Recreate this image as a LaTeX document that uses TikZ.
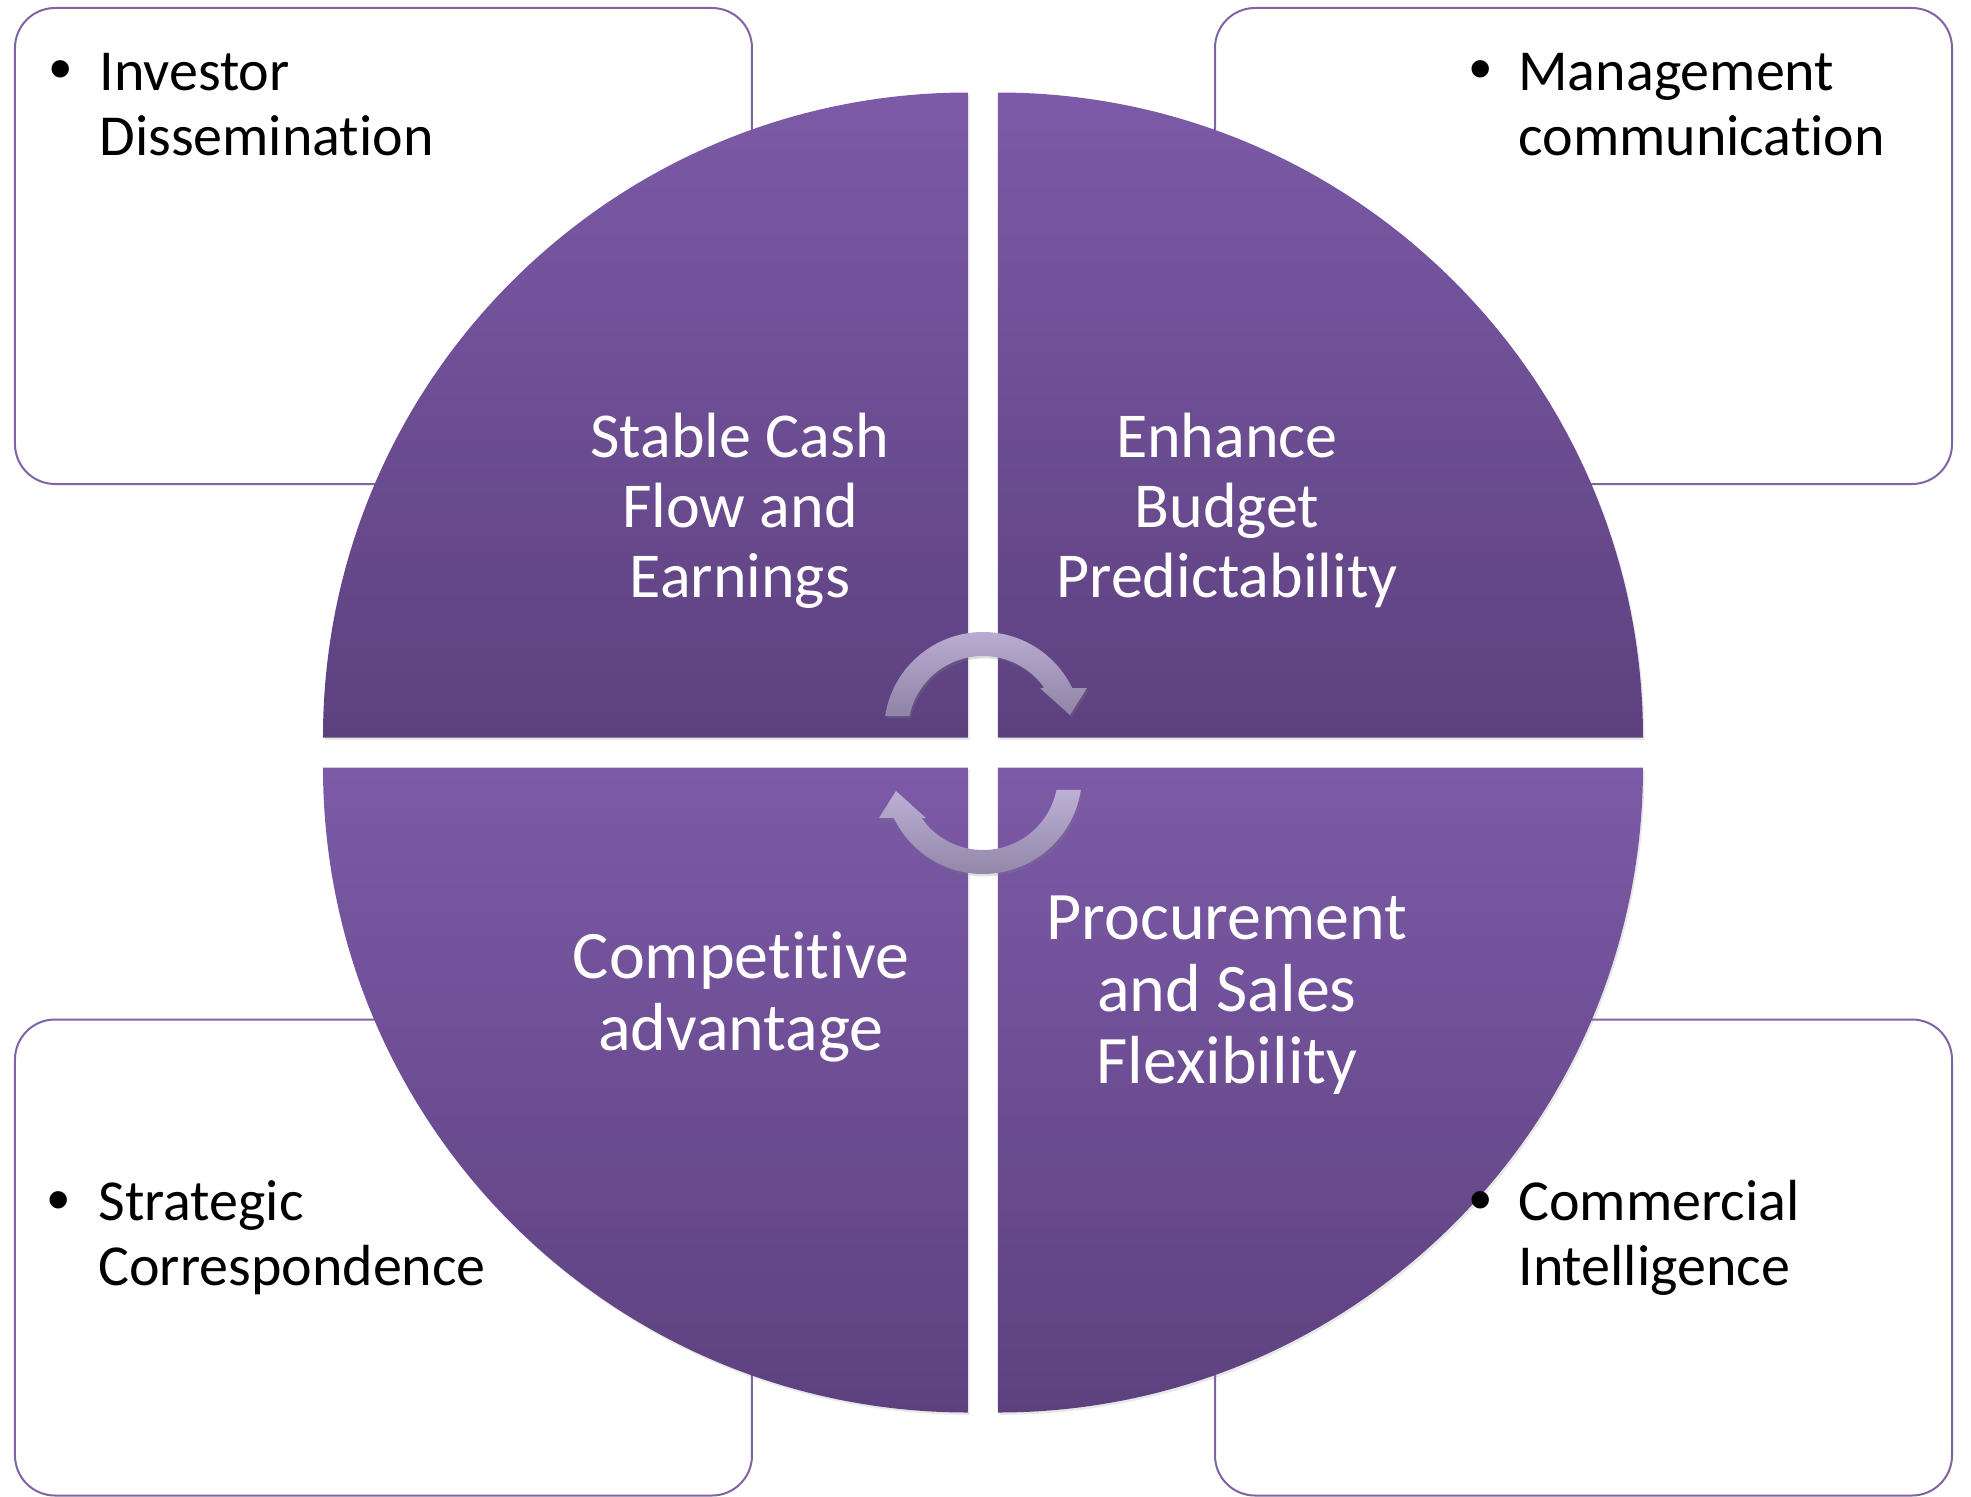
\documentclass[tikz,border=0pt]{standalone}
\usepackage{fontspec}
\setmainfont{Carlito}[Ligatures=NoCommon]
\newfontfamily\bulletfont{Liberation Sans}
\usetikzlibrary{shadows}

\definecolor{quarterTop}{HTML}{7C5AA7}
\definecolor{quarterBot}{HTML}{5D417F}
\definecolor{boxLine}{HTML}{8064A2}
\definecolor{arrowTop}{HTML}{BCB0D4}
\definecolor{arrowBot}{HTML}{8E84A5}

\begin{document}
\begin{tikzpicture}[x=0.5pt, y=0.5pt,
    info box/.style={draw=boxLine, line width=1pt, rounded corners=20pt, minimum width=368.5pt, minimum height=238pt, inner sep=0pt},
    quarter/.style={top color=quarterTop, bottom color=quarterBot, drop shadow={opacity=0.18, shadow xshift=0.8pt, shadow yshift=-1.2pt}},
    cycle arrow/.style={top color=arrowTop, bottom color=arrowBot, drop shadow={opacity=0.25, shadow xshift=0.8pt, shadow yshift=-1.2pt}},
    quarter text/.style={text=white, align=center, anchor=base, inner sep=0pt},
    item text/.style={align=left, anchor=base west, inner sep=0pt, font=\fontsize{29pt}{32.5pt}\selectfont},
    item dot/.style={anchor=base west, inner sep=0pt, font=\bulletfont\fontsize{32pt}{32.5pt}\selectfont}]
    \useasboundingbox (-983,-743.5) rectangle (988,752.5);

    % boxes behind the circle
    \node[info box] (investor) at (-599.5, 506.5) {};
    \node[info box] (management) at (600.5, 506.5) {};
    \node[info box] (strategic) at (-599.5, -505) {};
    \node[info box] (commercial) at (600.5, -505) {};

    % four quarters
    \path[quarter] (-15,15) -- (-660,15) arc[start angle=180, end angle=90, radius=645] -- cycle;
    \path[quarter] (15,15) -- (15,660) arc[start angle=90, end angle=0, radius=645] -- cycle;
    \path[quarter] (-15,-15) -- (-660,-15) arc[start angle=180, end angle=270, radius=645] -- cycle;
    \path[quarter] (15,-15) -- (660,-15) arc[start angle=0, end angle=-90, radius=645] -- cycle;

    % circular arrows
    \path[cycle arrow, shift={(0,21.5)}] (171.3:99) arc[start angle=171.3, end angle=25.7, radius=99]
        -- (104,43) -- (87,16) -- (57,43) -- (35:75) arc[start angle=35, end angle=168.5, radius=75] -- cycle;
    \path[cycle arrow, shift={(0,-22.5)}] (351.3:99) arc[start angle=351.3, end angle=205.7, radius=99]
        -- (-104,-43) -- (-87,-16) -- (-57,-43) -- (215:75) arc[start angle=215, end angle=348.5, radius=75] -- cycle;

    % base anchor sits on the last line
    \node[quarter text, font=\fontsize{32pt}{35pt}\selectfont] (cash) at (-243, 155.5) {Stable Cash\\Flow and\\Earnings};
    \node[quarter text, font=\fontsize{32pt}{35pt}\selectfont] (budget) at (244, 155.5) {Enhance\\Budget\\Predictability};
    \node[quarter text, font=\fontsize{34pt}{36pt}\selectfont] (advantage) at (-242, -297.5) {Competitive\\advantage};
    \node[quarter text, font=\fontsize{34pt}{36pt}\selectfont] (flexibility) at (244, -330.5) {Procurement\\and Sales\\Flexibility};

    \node[item dot] (investor dot) at (-934, 662.5) {•};
    \node[item text] (investor text) at (-884, 597.5) {Investor\\Dissemination};
    \node[item dot] (management dot) at (486, 662.5) {•};
    \node[item text] (management text) at (535, 597.5) {Management\\communication};
    \node[item dot] (strategic dot) at (-936, -468.5) {•};
    \node[item text] (strategic text) at (-885, -532.5) {Strategic\\Correspondence};
    \node[item dot] (commercial dot) at (486, -468.5) {•};
    \node[item text] (commercial text) at (535, -532.5) {Commercial\\Intelligence};
\end{tikzpicture}
\end{document}
